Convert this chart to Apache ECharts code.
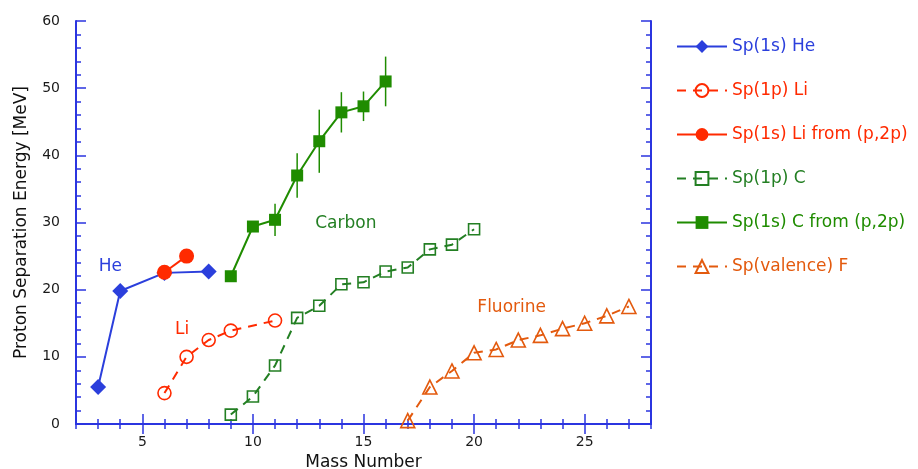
<!DOCTYPE html>
<html>
<head>
<meta charset="utf-8">
<script src="https://cdn.jsdelivr.net/npm/echarts@6/dist/echarts.min.js"></script>
<style>
  html, body { margin: 0; padding: 0; background: #fff; }
  #main { width: 918px; height: 469px; }
</style>
</head>
<body>
<div id="main"></div>
<script>
// data: [mass number, separation energy MeV]
var heS1 = [[3, 5.5], [4, 19.8], [6, 22.5], [8, 22.7]];
var liP1 = [[6, 4.6], [7, 10.0], [8, 12.5], [9, 13.9], [11, 15.4]];
var liS1 = [[6, 22.6], [7, 25.0]];
var cP1 = [[9, 1.4], [10, 4.1], [11, 8.7], [12, 15.8], [13, 17.6], [14, 20.8],
           [15, 21.1], [16, 22.7], [17, 23.3], [18, 26.0], [19, 26.7], [20, 29.0]];
var cS1 = [[9, 22.0], [10, 29.4], [11, 30.4], [12, 37.0], [13, 42.1], [14, 46.4], [15, 47.3], [16, 51.0]];
var cS1Err = [0, 0.6, 2.4, 3.3, 4.7, 3.0, 2.2, 3.7];
var fVal = [[17, 0.5], [18, 5.5], [19, 7.9], [20, 10.6], [21, 11.1], [22, 12.5],
            [23, 13.2], [24, 14.2], [25, 15.0], [26, 16.1], [27, 17.5]];
var xMajor = [5, 10, 15, 20, 25];
var yMajor = [0, 10, 20, 30, 40, 50, 60];
var notes = [
  { name: 'He', value: [3.55, 23.4], color: '#2b3fdc' },
  { name: 'Li', value: [6.8, 14.1], color: '#ff2a00' },
  { name: 'Carbon', value: [14.2, 29.9], color: '#237f23' },
  { name: 'Fluorine', value: [21.7, 17.4], color: '#e35a0e' }
];

var AX = '#2b35e0';
var FONT = 'DejaVu Sans';
var cBlue = '#2b3fdc', cRed = '#ff2a00', cGreenD = '#237f23', cGreen = '#1f8c00', cOrange = '#e35a0e';

var errData = cS1.map(function (p, i) { return [p[0], p[1], cS1Err[i]]; });

function xAx(pos, opts) {
  return Object.assign({
    type: 'value', position: pos, min: 2, max: 28, interval: 1,
    axisLine: { show: true, lineStyle: { color: AX, width: 2 } },
    axisTick: { show: true, inside: true, length: 5, lineStyle: { color: AX, width: 1.5 } },
    axisLabel: { show: false },
    splitLine: { show: false }
  }, opts || {});
}
function yAx(pos, opts) {
  return Object.assign({
    type: 'value', position: pos, min: 0, max: 60, interval: 2,
    axisLine: { show: true, lineStyle: { color: AX, width: 2 } },
    axisTick: { show: true, inside: true, length: 5, lineStyle: { color: AX, width: 1.5 } },
    axisLabel: { show: false },
    splitLine: { show: false }
  }, opts || {});
}
var majorX = { show: true, inside: true, length: 10, customValues: xMajor, lineStyle: { color: AX, width: 1.5 } };
var majorY = { show: true, inside: true, length: 10, customValues: yMajor, lineStyle: { color: AX, width: 1.5 } };

var myChart = echarts.init(document.getElementById('main'));

var option = {
  backgroundColor: '#fff',
  animation: false,
  textStyle: { fontFamily: FONT },
  grid: { left: 76, right: 267, top: 21, bottom: 45, outerBoundsMode: 'none', containLabel: false },
  xAxis: [
    xAx('bottom', {
      name: 'Mass Number', nameLocation: 'middle', nameGap: 29,
      nameTextStyle: { fontSize: 17, color: '#111', fontFamily: FONT },
      axisLabel: {
        show: true, margin: 11, fontSize: 14, color: '#1a1a1a', fontFamily: FONT,
        formatter: function (v) { return v % 5 === 0 ? String(v) : ''; }
      }
    }),
    xAx('bottom', { axisLine: { show: false }, axisTick: majorX }),
    xAx('top'),
    xAx('top', { axisLine: { show: false }, axisTick: majorX })
  ],
  yAxis: [
    yAx('left', {
      name: 'Proton Separation Energy [MeV]', nameLocation: 'middle', nameGap: 46,
      nameTextStyle: { fontSize: 17, color: '#111', fontFamily: FONT },
      axisLabel: {
        show: true, margin: 16, fontSize: 14, color: '#1a1a1a', fontFamily: FONT,
        formatter: function (v) { return v % 10 === 0 ? String(v) : ''; }
      }
    }),
    yAx('left', { axisLine: { show: false }, axisTick: majorY }),
    yAx('right'),
    yAx('right', { axisLine: { show: false }, axisTick: majorY })
  ],
  legend: {
    orient: 'vertical', left: 676, top: 38, padding: 0,
    itemWidth: 50, itemHeight: 16, itemGap: 27,
    textStyle: { fontSize: 17, lineHeight: 16, fontFamily: FONT },
    data: [
      { name: 'Sp(1s) He', textStyle: { color: cBlue } },
      { name: 'Sp(1p) Li', textStyle: { color: cRed } },
      { name: 'Sp(1s) Li from (p,2p)', textStyle: { color: cRed } },
      { name: 'Sp(1p) C', textStyle: { color: cGreenD } },
      { name: 'Sp(1s) C from (p,2p)', textStyle: { color: cGreen } },
      { name: 'Sp(valence) F', textStyle: { color: cOrange } }
    ]
  },
  series: [
    {
      name: 'Sp(1s) He', type: 'line', data: heS1,
      symbol: 'diamond', symbolSize: 16,
      lineStyle: { color: cBlue, width: 2 },
      itemStyle: { color: cBlue }
    },
    {
      name: 'Sp(1p) Li', type: 'line', data: liP1,
      symbol: 'circle', symbolSize: 13,
      lineStyle: { color: cRed, width: 2, type: [9, 7] },
      itemStyle: { color: 'rgba(255,255,255,0)', borderColor: cRed, borderWidth: 1.6 }
    },
    {
      name: 'Sp(1s) Li from (p,2p)', type: 'line', data: liS1,
      symbol: 'circle', symbolSize: 15,
      lineStyle: { color: cRed, width: 2 },
      itemStyle: { color: cRed }
    },
    {
      name: 'Sp(1p) C', type: 'line', data: cP1,
      symbol: 'rect', symbolSize: 11,
      lineStyle: { color: cGreenD, width: 2, type: [9, 7] },
      itemStyle: { color: 'rgba(255,255,255,0)', borderColor: cGreenD, borderWidth: 1.6 }
    },
    {
      name: 'Sp(1s) C from (p,2p)', type: 'line', data: cS1,
      symbol: 'rect', symbolSize: 12, z: 3,
      lineStyle: { color: cGreen, width: 2 },
      itemStyle: { color: cGreen }
    },
    {
      name: 'C errors', type: 'custom', data: errData, z: 2,
      renderItem: function (params, api) {
        var x = api.value(0), y = api.value(1), e = api.value(2);
        var p1 = api.coord([x, y - e]), p2 = api.coord([x, y + e]);
        return {
          type: 'line',
          shape: { x1: p1[0], y1: p1[1], x2: p2[0], y2: p2[1] },
          style: { stroke: cGreen, lineWidth: 1.5 }
        };
      }
    },
    {
      name: 'Sp(valence) F', type: 'line', data: fVal,
      symbol: 'triangle', symbolSize: 14,
      lineStyle: { color: cOrange, width: 2, type: [9, 7] },
      itemStyle: { color: 'rgba(255,255,255,0)', borderColor: cOrange, borderWidth: 1.6 }
    },
    {
      name: 'notes', type: 'scatter', symbolSize: 1, silent: true,
      itemStyle: { color: 'rgba(0,0,0,0)', opacity: 1 },
      data: notes.map(function (n) {
        return {
          name: n.name, value: n.value,
          label: { show: true, position: 'inside', formatter: '{b}', color: n.color, opacity: 1,
                   fontSize: 17, fontFamily: FONT }
        };
      })
    }
  ]
};

myChart.setOption(option);
</script>
</body>
</html>
